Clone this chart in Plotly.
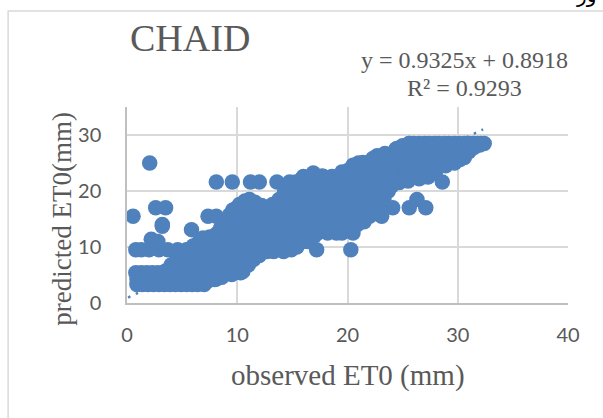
import plotly.graph_objects as go

GRAY = "#595959"
BLUE = "#4f81bd"

title_text = "CHAID"
x_title = "observed ET0 (mm)"
y_title = "predicted ET0(mm)"
equation = "y = 0.9325x + 0.8918"
r_squared = "R² = 0.9293"
corner_text = "ور"
x_ticks = [0, 10, 20, 30, 40]
y_ticks = [0, 10, 20, 30]

trend_x = [0.1, 32.3]
trend_y = [0.98, 31.0]

pred_levels = [3.3, 4.3, 5.4, 7.0, 8.6, 9.5, 11.0, 12.5, 14.0, 15.5, 17.0, 18.5, 20.0,
               21.6, 22.6, 23.6, 25.0, 26.3, 27.5, 28.5]
obs_by_level = [
    [0.9, 1.4, 1.9, 2.4, 2.9, 3.4, 3.9, 4.4, 4.9, 5.4, 5.9, 6.4, 7.0],
    [0.9, 1.8, 2.7, 3.6, 4.5, 5.4, 6.3, 7.2, 8.1],
    [0.8, 1.3, 1.8, 2.3, 2.8, 3.3, 3.8, 4.3, 4.8, 5.3, 6.2, 7.1, 8.0, 8.9, 9.7, 10.3],
    [4.4, 5.3, 6.2, 7.1, 8.0, 8.9, 9.8, 10.6, 11.0],
    [5.2, 6.1, 7.0, 7.9, 8.8, 9.7, 10.6, 11.5, 12.0],
    [0.8, 1.3, 2.0, 2.9, 3.7, 4.6, 5.4, 6.3, 7.2, 8.1, 9.0, 9.9, 10.8, 11.7, 12.6, 13.5, 14.4, 14.9, 17.2, 20.3],
    [2.8, 7.0, 7.9, 8.8, 9.7, 10.6, 11.5, 12.4, 13.3, 14.2, 15.1, 16.0, 16.4],
    [8.3, 9.2, 10.1, 11.0, 11.9, 12.8, 13.7, 14.6, 15.5, 16.4, 17.3, 18.2, 19.0, 19.5, 20.5],
    [9.0, 9.9, 10.8, 11.7, 12.6, 13.5, 14.4, 15.3, 16.2, 17.1, 18.0, 18.9, 19.8, 20.9, 3.2],
    [0.55, 7.35, 8.1, 9.4, 10.3, 11.2, 12.1, 13.0, 13.9, 14.8, 15.7, 16.6, 17.5, 18.4, 19.3, 20.2, 21.1, 22.0, 23.1],
    [2.6, 3.5, 10.0, 10.9, 11.8, 12.7, 13.6, 14.5, 15.4, 16.3, 17.2, 18.1, 19.0, 19.9, 20.8, 21.7, 22.6, 24.1, 25.6, 27.1],
    [11.1, 13.8, 14.7, 15.6, 16.5, 17.4, 18.3, 19.2, 20.1, 21.0, 21.9, 22.8, 23.3, 26.3],
    [14.3, 15.2, 16.1, 17.0, 17.9, 18.8, 19.7, 20.6, 21.5, 22.4, 23.3, 23.7],
    [8.1, 9.55, 11.2, 12.0, 13.6, 14.75, 15.6, 16.5, 17.4, 18.3, 19.2, 20.1, 21.0, 21.9, 22.8, 23.7, 24.7, 28.6],
    [16.0, 16.9, 17.8, 18.6, 19.5, 20.4, 21.3, 22.2, 23.1, 24.0, 24.9, 25.8, 26.7, 27.3],
    [20.0, 20.9, 21.8, 22.7, 23.6, 24.5, 25.4, 26.3, 27.2, 28.0],
    [2.06, 21.0, 21.9, 22.8, 23.7, 24.6, 25.5, 26.4, 27.3, 28.2, 29.1, 29.7],
    [22.7, 23.6, 24.5, 25.4, 26.3, 27.2, 28.1, 29.0, 29.9, 30.6],
    [24.4, 25.3, 26.2, 27.1, 28.0, 28.9, 29.8, 30.7, 31.2],
    [25.6, 26.0, 26.5, 27.0, 27.4, 27.9, 28.3, 28.8, 29.2, 29.7, 30.1, 30.6, 31.0, 31.4, 31.8, 32.1, 32.4],
]
upper_edge_obs = [3.5, 4.0, 4.5, 5.0, 5.4, 6.0, 6.5, 6.9, 7.5, 8.1, 8.5, 9.0, 9.3, 9.6, 10.2, 10.7, 11.1,
                  11.6, 12.2, 12.7, 13.2, 13.8, 14.3, 14.75, 15.3, 15.9, 16.8, 17.7, 18.6, 19.5, 20.5,
                  21.4, 22.3, 23.4, 24.5, 25.0, 25.6]
upper_edge_pred = [5.7, 6.8, 7.8, 8.8, 9.4, 10.2, 10.8, 11.2, 11.8, 12.3, 13.4, 14.8, 15.7, 16.6, 17.6, 18.2, 18.4,
                   18.0, 17.4, 17.1, 17.6, 18.4, 19.6, 21.0, 21.6, 22.2, 22.8, 22.7, 22.5, 23.4, 24.4,
                   25.1, 25.8, 26.7, 27.6, 28.1, 28.5]
lower_edge_obs = [6.6, 7.3, 7.95, 8.6, 9.5, 10.5, 11.0, 11.5, 12.0, 12.7, 13.3, 14.2, 15.4, 16.3, 17.0, 18.0, 18.6,
                  21.5, 22.5, 22.8, 23.2, 23.2, 24.0, 24.7, 25.5, 26.5, 27.3, 27.7, 28.1, 28.9, 29.7, 30.2, 30.6,
                  31.0, 31.5, 32.0]
lower_edge_pred = [3.65, 3.9, 4.2, 4.6, 5.1, 5.6, 6.8, 7.8, 8.5, 9.2, 9.2, 9.2, 10.0, 11.3, 12.0, 13.0, 13.5,
                   14.5, 16.0, 17.0, 18.5, 20.2, 20.9, 21.5, 21.8, 22.2, 22.5, 23.2, 24.0, 24.5, 25.1, 25.6, 26.0,
                   27.0, 27.8, 28.2]
extra_obs = [2.2, 5.85, 6.9, 3.2, 20.5, 16.9]
extra_pred = [11.4, 13.1, 11.6, 13.7, 24.6, 23.2]

obs = [v for row in obs_by_level for v in row] + upper_edge_obs + lower_edge_obs + extra_obs
pred = ([lvl for lvl, row in zip(pred_levels, obs_by_level) for _ in row]
        + upper_edge_pred + lower_edge_pred + extra_pred)

fig = go.Figure()
fig.add_trace(go.Scatter(x=obs, y=pred, mode="markers", cliponaxis=False,
                         marker=dict(size=15.5, color=BLUE, line=dict(width=0)), showlegend=False))
fig.add_trace(go.Scatter(x=trend_x, y=trend_y, mode="lines", cliponaxis=False,
                         line=dict(color=BLUE, width=2.5, dash="2.5px,6px"), showlegend=False))

L, R, T, B = 127.3, 568.0, 107.0, 303.0
W, H = 603, 418
px = lambda p: (p - L) / (R - L)
py = lambda p: (B - p) / (B - T)

fig.update_layout(
    width=W, height=H, autosize=False,
    margin=dict(l=L, r=W - R, t=T, b=H - B, pad=0),
    paper_bgcolor="white", plot_bgcolor="white",
    showlegend=False,
    xaxis=dict(range=[0, 40], tickvals=x_ticks, showgrid=True, gridcolor="#d9d9d9", gridwidth=1.5,
               zeroline=False, showline=True, linecolor="#bfbfbf", linewidth=1.5, ticks="",
               tickfont=dict(family="Lato", size=20, color=GRAY), ticklabelstandoff=13),
    yaxis=dict(range=[0, 35], tickvals=y_ticks, showgrid=True, gridcolor="#d9d9d9", gridwidth=1.5,
               zeroline=False, showline=True, linecolor="#bfbfbf", linewidth=1.5, ticks="",
               tickfont=dict(family="Lato", size=20, color=GRAY), ticklabelstandoff=20),
    shapes=[dict(type="rect", xref="paper", yref="paper", x0=px(8.5), x1=px(640), y0=py(11), y1=py(460),
                 line=dict(color="#d9d9d9", width=1.5), fillcolor="rgba(0,0,0,0)", layer="below")],
    annotations=[
        dict(text=title_text, xref="paper", yref="paper", x=px(128), y=py(38), xanchor="left", yanchor="middle",
             showarrow=False, font=dict(family="Liberation Serif", size=38, color=GRAY)),
        dict(text=equation, xref="paper", yref="paper", x=px(465), y=py(60), xanchor="center", yanchor="middle",
             showarrow=False, font=dict(family="Liberation Serif", size=24, color=GRAY)),
        dict(text=r_squared, xref="paper", yref="paper", x=px(465), y=py(88), xanchor="center", yanchor="middle",
             showarrow=False, font=dict(family="Liberation Serif", size=24, color=GRAY)),
        dict(text=x_title, xref="paper", yref="paper", x=px(348.5), y=py(375), xanchor="center", yanchor="middle",
             showarrow=False, font=dict(family="Liberation Serif", size=29, color=GRAY)),
        dict(text=y_title, xref="paper", yref="paper", x=px(62), y=py(219), xanchor="center", yanchor="middle",
             textangle=-90, showarrow=False, font=dict(family="Liberation Serif", size=27, color=GRAY)),
        dict(text=corner_text, xref="paper", yref="paper", x=px(586), y=py(-5), xanchor="center", yanchor="middle",
             showarrow=False, font=dict(family="DejaVu Sans", size=20, color="#000000")),
    ],
)
fig.write_html("out.html", config={"displayModeBar": False}, post_script="document.body.style.margin='0';")
